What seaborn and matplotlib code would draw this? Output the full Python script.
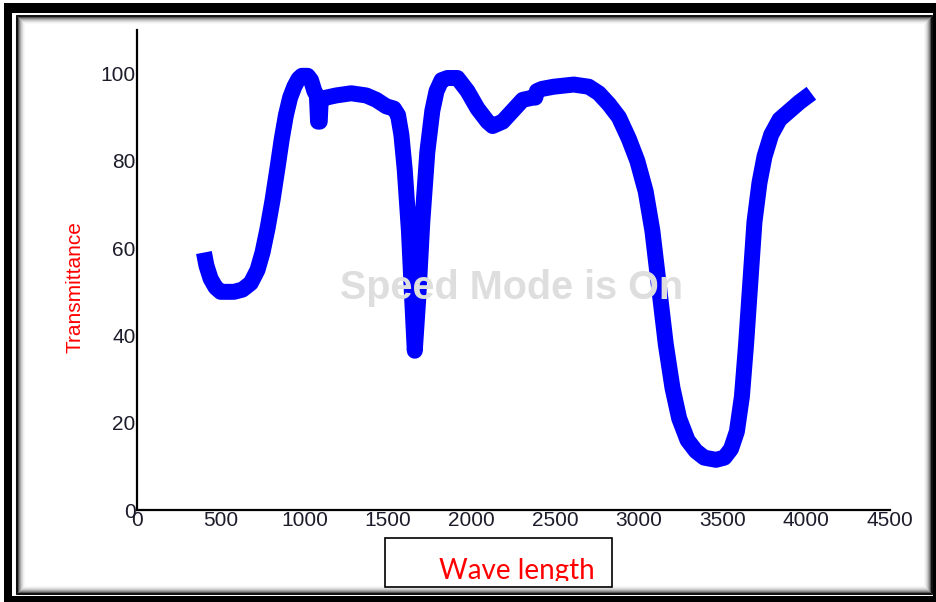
import matplotlib
matplotlib.use("Agg")
import matplotlib.pyplot as plt
from matplotlib.patches import Rectangle
import numpy as np
import pandas as pd
import seaborn as sns

# datos (longitud de onda vs transmitancia)
longitud = [400, 415, 440, 470, 500, 530, 580, 630, 680, 720, 750, 780, 810, 840, 865,
            890, 915, 940, 965, 985, 1020, 1040, 1060, 1075, 1082, 1092, 1098, 1130, 1190,
            1280, 1370, 1430, 1490, 1535, 1560, 1580, 1600, 1625, 1645, 1660, 1680, 1705,
            1735, 1765, 1790, 1820, 1855, 1915, 1975, 2035, 2095, 2125, 2185, 2245, 2305,
            2365, 2380, 2390, 2420, 2490, 2610, 2700, 2760, 2820, 2880, 2940, 2990, 3040,
            3080, 3120, 3160, 3200, 3240, 3290, 3340, 3390, 3460, 3510, 3550, 3585, 3615,
            3640, 3665, 3690, 3720, 3750, 3790, 3840, 3900, 3960, 4030]
transmitancia = [59, 56, 53, 51, 50, 50, 50, 50.5, 52, 55, 59, 64.5, 71, 78.5, 85,
                 90.5, 94.5, 97, 98.8, 99.5, 99.5, 98.5, 96, 95, 89, 89, 94, 94.5, 95,
                 95.5, 95, 94, 92.5, 92, 90.5, 86, 78, 64, 48, 36.5, 48, 66,
                 82, 91.5, 96, 98.5, 99, 99, 96, 92, 89, 88, 89, 91.5, 94,
                 94.5, 94.5, 96, 96.5, 97, 97.5, 97, 95.5, 93, 90, 85, 80, 73,
                 64, 51, 38, 28, 21, 16, 13.5, 12, 11.5, 12, 14, 18, 26,
                 38, 52, 66, 75, 81, 86, 89.5, 91.5, 93.5, 95.5]

xticks = [0, 500, 1000, 1500, 2000, 2500, 3000, 3500, 4000, 4500]
yticks = [0, 20, 40, 60, 80, 100]

W, H = 936, 602

def caja(x0, y0, x1, y1):
    # rectangulo en pixeles (origen arriba a la izquierda) -> fraccion de figura
    return (x0 / W, 1 - y1 / H), (x1 - x0) / W, (y1 - y0) / H

sns.set_style("white")
plt.rcParams['font.family'] = ['Liberation Sans', 'DejaVu Sans']

fig = plt.figure(figsize=(W / 100, H / 100), dpi=100)
fig.patch.set_facecolor('white')

#%% marco negro doble con sombra
xy, w, h = caja(4, 3, 936, 602)
fig.patches.append(Rectangle(xy, w, h, transform=fig.transFigure, facecolor='black', edgecolor='none', zorder=0))
xy, w, h = caja(12, 13, 933, 596)
fig.patches.append(Rectangle(xy, w, h, transform=fig.transFigure, facecolor='white', edgecolor='none', zorder=0))
grises = ['#111111', '#111111', '#555555', '#888888', '#aaaaaa', '#c8c8c8', '#dddddd', '#eeeeee', '#f7f7f7']
for i, g in enumerate(grises):
    xy, w, h = caja(16 + i, 15 + i, 932 - i, 594 - i)
    fig.patches.append(Rectangle(xy, w, h, transform=fig.transFigure, facecolor='none',
                                 edgecolor=g, linewidth=0.75, zorder=0.5))

#%% grafico
ax = fig.add_axes([137 / W, 1 - 510 / H, (890 - 137) / W, (510 - 30) / H])
ax.set_zorder(1)
ax.set_facecolor('none')
df = pd.DataFrame({'x': longitud, 'y': transmitancia})
sns.lineplot(data=df, x='x', y='y', sort=False, estimator=None, color='#0000ff',
             linewidth=11.5, solid_capstyle='butt', solid_joinstyle='round', ax=ax)

ax.set_xlim(0, 4500)
ax.set_ylim(0, 110)
ax.set_xticks(xticks)
ax.set_yticks(yticks)
ax.tick_params(length=0, pad=1, labelsize=15, labelcolor='#1c1c2a')
for s in ['top', 'right']:
    ax.spines[s].set_visible(False)
for s in ['left', 'bottom']:
    ax.spines[s].set_color('black')
    ax.spines[s].set_linewidth(1.6)
ax.set_xlabel('')
ax.set_ylabel('')

ax.text(0.497, 0.4625, 'Speed Mode is On', transform=ax.transAxes, ha='center', va='center',
        fontsize=28.5, fontweight='bold', color='#dedede', zorder=5)

fig.text(75 / W, 1 - 287 / H, 'Transmittance', rotation=90, ha='center', va='center',
         fontsize=15, color='#ff0000')

#%% caja del eje x
xy, w, h = caja(385, 538, 612, 587)
marco = Rectangle(xy, w, h, transform=fig.transFigure, facecolor='white', edgecolor='black',
                  linewidth=1.2, zorder=2)
fig.patches.append(marco)
xy, w, h = caja(385, 538, 612, 581)
recorte = Rectangle(xy, w, h, transform=fig.transFigure)
t = fig.text(517 / W, 1 - 579 / H, 'Wave length', ha='center', va='baseline', fontsize=20,
             color='#ff0000', family=['Lato', 'DejaVu Sans'], zorder=3)
t.set_clip_on(True)
t.set_clip_path(recorte)

fig.savefig('out.png', dpi=100)
